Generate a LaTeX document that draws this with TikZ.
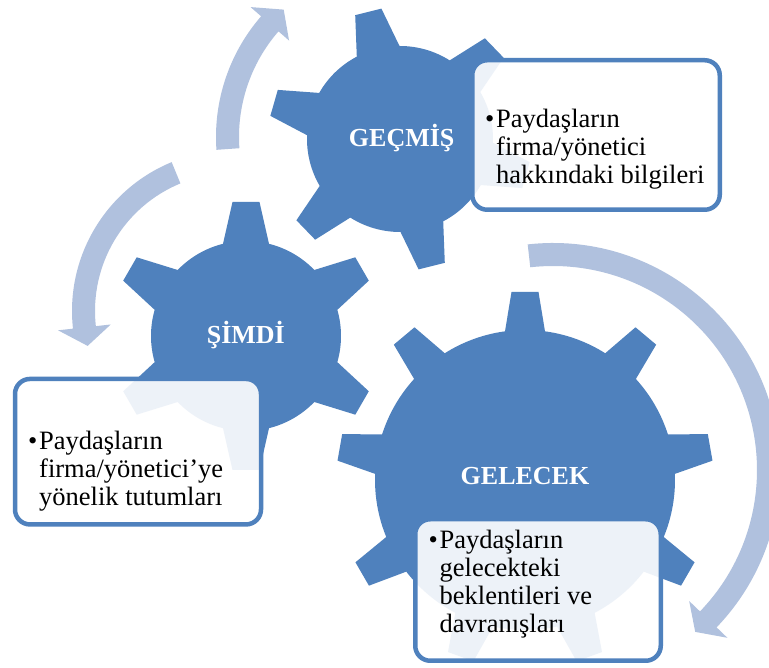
\documentclass[tikz,border=0pt]{standalone}
\usepackage{fontspec}
\setmainfont{Liberation Serif}

\definecolor{gearblue}{RGB}{79,129,189}
\definecolor{arrowblue}{RGB}{176,193,222}

\tikzset{
  cogfill/.style={fill=gearblue},
  cyclefill/.style={fill=arrowblue},
  notebox/.style={draw=gearblue, line width=4.5pt, fill=white, fill opacity=0.9,
    rounded corners=15pt, inner sep=0pt, outer sep=0pt},
  notetext/.style={anchor=base west, inner sep=0pt, text=black,
    font=\fontsize{26.5}{28}\selectfont},
  geartitle/.style={anchor=base, inner sep=0pt, text=white,
    font=\bfseries\fontsize{26}{28}\selectfont},
}

% cog: #1,#2 centre, #3 teeth, #4 phase, #5 body radius, #6 tip radius, #7 half base width
\newcommand\cogwheel[7]{%
  \pgfmathsetmacro\cogstep{360/#3}%
  \pgfmathsetmacro\cogbase{asin(#7/#5)}%
  \pgfmathsetmacro\cogtip{atan(13.5/#6)}%
  \pgfmathsetmacro\cogtipr{veclen(#6,13.5)}%
  \fill[cogfill] ([shift={(#1,#2)}]#4+\cogbase:#5)
    \foreach \k in {1,...,#3}{
      arc[start angle=#4+(\k-1)*\cogstep+\cogbase, end angle=#4+\k*\cogstep-\cogbase, radius=#5]
      -- ([shift={(#1,#2)}]#4+\k*\cogstep-\cogtip:\cogtipr)
      -- ([shift={(#1,#2)}]#4+\k*\cogstep+\cogtip:\cogtipr)
      -- ([shift={(#1,#2)}]#4+\k*\cogstep+\cogbase:#5)
    } -- cycle;
}

% curved arrow: #1,#2 centre, #3 mid radius, #4 tail angle, #5 head base angle,
% #6 tip angle, #7 half head width
\newcommand\turnarrow[7]{%
  \fill[cyclefill] ([shift={(#1,#2)}]#4:#3+11.5)
    arc[start angle=#4, end angle=#5, radius=#3+11.5]
    -- ([shift={(#1,#2)}]#5:#3+#7)
    -- ([shift={(#1,#2)}]#6:#3)
    -- ([shift={(#1,#2)}]#5:#3-#7)
    -- ([shift={(#1,#2)}]#5:#3-11.5)
    arc[start angle=#5, end angle=#4, radius=#3-11.5]
    -- cycle;
}

% bulleted paragraph with hanging indent; baseline is the first line
\newcommand\bulletpara[1]{\vtop{\hsize=260pt
  \hangindent=11pt\hangafter=1\noindent\makebox[11pt][l]{\textbullet}#1\par}}

\begin{document}
\begin{tikzpicture}[x=1pt, y=1pt]
  \fill[white] (0,0) rectangle (769,668);
  \clip (0,0) rectangle (769,668);

  % circular arrows
  \turnarrow{400}{531}{172.5}{184}{139}{132.4}{25.5}
  \turnarrow{233}{357}{149.5}{112.4}{186.3}{193.5}{26.5}
  \turnarrow{553}{198}{215.5}{96.4}{-43.9}{-48.7}{26.5}

  % cogs
  \cogwheel{400}{529}{6}{104}{93}{131}{22}
  \cogwheel{246}{332}{6}{90}{95}{134}{23}
  \cogwheel{525}{188}{9}{90}{150}{188}{20}

  % cog titles
  \node[geartitle] (gecmis) at (401.7,521.3) {GEÇMİŞ};
  \node[geartitle] (simdi) at (245.8,324.7) {ŞİMDİ};
  \node[geartitle] (gelecek) at (525,183) {GELECEK};

  % note boxes
  \node[notebox, minimum width=247.5pt, minimum height=149.5pt] (boxpast) at (596,533) {};
  \node[notebox, minimum width=246pt, minimum height=145.5pt] (boxnow) at (138,216.3) {};
  \node[notebox, minimum width=245.5pt, minimum height=141.5pt] (boxfuture) at (538,78) {};

  % note texts
  \node[notetext] (txtpast) at (485,540)
    {\bulletpara{Paydaşların\newline firma/yönetici\newline hakkındaki bilgileri}};
  \node[notetext] (txtnow) at (28,218)
    {\bulletpara{Paydaşların\newline firma/yönetici’ye\newline yönelik tutumları}};
  \node[notetext] (txtfuture) at (428.5,119.7)
    {\bulletpara{Paydaşların\newline gelecekteki\newline beklentileri ve\newline davranışları}};
\end{tikzpicture}
\end{document}
